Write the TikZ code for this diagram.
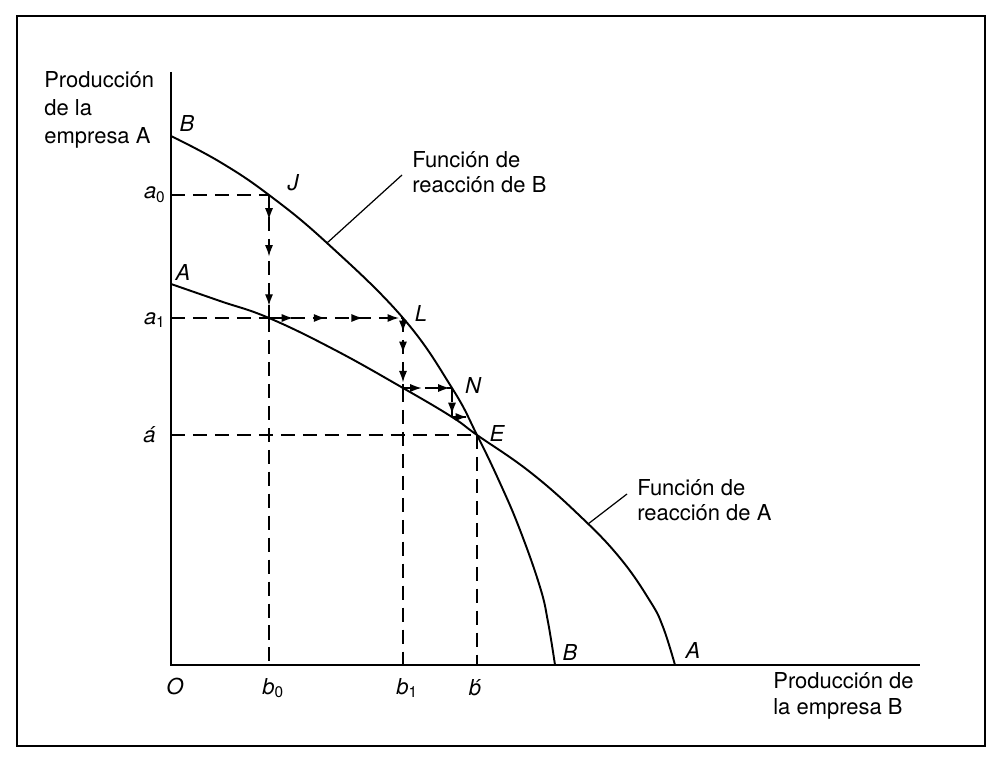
\documentclass[tikz,border=0pt]{standalone}
\usepackage{fontspec}
\setmainfont{TeX Gyre Heros}
\usetikzlibrary{positioning, arrows.meta, decorations.markings}

\tikzset{
  eje/.style={line width=1.2pt},
  curva/.style={line width=1.1pt},
  guion/.style={line width=0.8pt, dash pattern=on 8pt off 4.5pt},
  flecha/.style={postaction={decorate, decoration={markings,
      mark=at position #1 with {\arrow{Latex[length=6.5pt,width=4.6pt]}}}}},
  rotulo/.style={font=\fontsize{12.5}{14.5}\selectfont, inner sep=0pt, align=left},
  letra/.style={font=\fontsize{12.5}{14}\selectfont\itshape, inner sep=0pt},
}

\begin{document}
\begin{tikzpicture}[x=0.02cm, y=-0.02cm]
  \useasboundingbox (0,0) rectangle (1000,760);
  \draw[line width=1.6pt] (17,16) rectangle (985,746);

  % ejes
  \coordinate (O) at (171,665);
  \coordinate (ytop) at (171,72);
  \coordinate (xfin) at (920,665);
  \draw[eje] (ytop) -- (O) -- (xfin);

  % puntos del ajuste
  \coordinate (J) at (269,195);
  \coordinate (K) at (269,318);
  \coordinate (L) at (403,318);
  \coordinate (M) at (403,388);
  \coordinate (N) at (452,388);
  \coordinate (P) at (452,417);
  \coordinate (Q) at (467,417);
  \coordinate (E) at (477,435);
  \coordinate (a0) at (171,195);
  \coordinate (a1) at (171,318);
  \coordinate (ah) at (171,435);
  \coordinate (b0) at (269,665);
  \coordinate (b1) at (403,665);
  \coordinate (bh) at (477,665);

  % lineas de trazos
  \draw[guion] (a0) -- (J);
  \draw[guion, flecha=0.2, flecha=0.5, flecha=0.9] (J) -- (K);
  \draw[guion] (K) -- (b0);
  \draw[guion] (a1) -- (K);
  \draw[guion, flecha=0.18, flecha=0.42, flecha=0.7, flecha=0.97] (K) -- (L);
  \draw[guion, flecha=0.2, flecha=0.5, flecha=0.92] (L) -- (M);
  \draw[guion] (M) -- (b1);
  \draw[guion, flecha=0.38, flecha=0.95] (M) -- (N);
  \draw[guion, flecha=0.9] (N) -- (P);
  \draw[guion, flecha=1] (P) -- (Q);
  \draw[guion] (ah) -- (E);
  \draw[guion] (E) -- (bh);

  % funciones de reaccion
  \draw[curva] plot[smooth, tension=0.7] coordinates
    {(171,136) (220,162) (J) (327,243) (L) (N) (E) (500,483) (520,530)
     (540,587) (548,622) (555,665)};
  \draw[curva] plot[smooth, tension=0.7] coordinates
    {(171,284) (220,301) (K) (335,350) (M) (P) (E) (530,472) (580,516)
     (620,558) (650,601) (663,627) (675,665)};

  % rotulos
  \node[rotulo, font=\fontsize{12.5}{16}\selectfont, anchor=west] (ya) at (44,110)
    {Producción\\de la\\empresa A};
  \node[rotulo, anchor=west] (xb) at (773,696) {Producción de\\la empresa B};
  \node[rotulo, anchor=west] (fb) at (412,172) {Función de\\reacción de B};
  \node[rotulo, anchor=west] (fa) at (637,500) {Función de\\reacción de A};
  \coordinate (lb) at (327,243);
  \coordinate (lbfin) at (402,175);
  \coordinate (la) at (588,524);
  \coordinate (lafin) at (627,494);
  \draw[line width=0.7pt] (lb) -- (lbfin);
  \draw[line width=0.7pt] (la) -- (lafin);

  \node[letra] (tB1) at (187,123) {B};
  \node[letra] (tJ) at (293,183) {J};
  \node[letra] (tA1) at (183,272) {A};
  \node[letra] (tL) at (421,313) {L};
  \node[letra] (tN) at (473,385) {N};
  \node[letra] (tE) at (497,433) {E};
  \node[letra] (tB2) at (570,652) {B};
  \node[letra] (tA2) at (693,650) {A};
  \node[letra] (tO) at (175,686) {O};
  \node[letra, anchor=west] (tb0) at (262,688) {b\textsubscript{\upshape 0}};
  \node[letra, anchor=west] (tb1) at (396,688) {b\textsubscript{\upshape 1}};
  \node[letra] (tbh) at (475,688) {\'b};
  \node[letra, anchor=east] (ta0) at (166,195) {a\textsubscript{\upshape 0}};
  \node[letra, anchor=east] (ta1) at (166,320) {a\textsubscript{\upshape 1}};
  \node[letra, anchor=east] (tah) at (156,435) {\'a};
\end{tikzpicture}
\end{document}
